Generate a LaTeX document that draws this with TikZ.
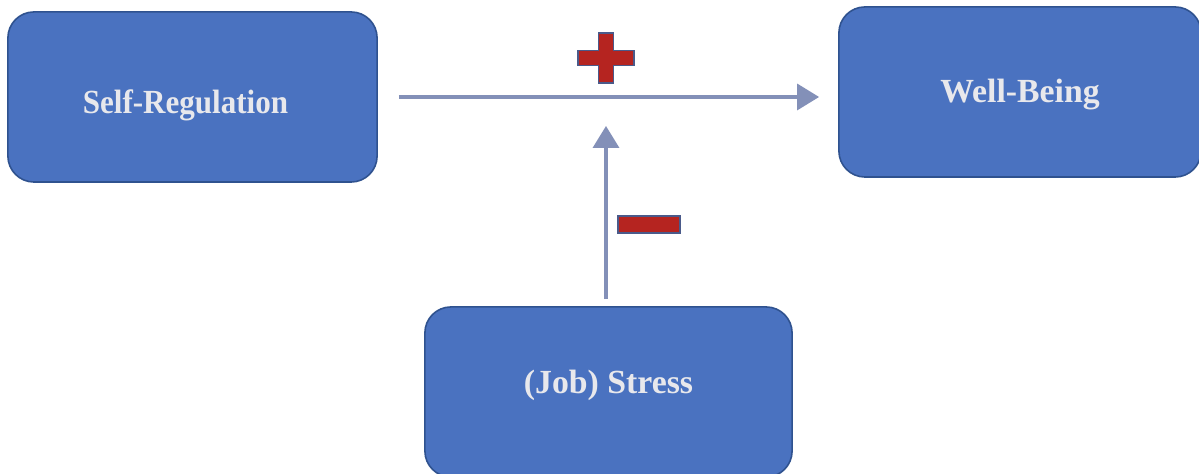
\documentclass[tikz,border=0pt]{standalone}
\usepackage{fontspec}
\setmainfont{Liberation Serif}
\usetikzlibrary{arrows.meta,calc}
\definecolor{boxblue}{HTML}{4A72C0}
\definecolor{boxedge}{HTML}{2F528F}
\definecolor{boxtext}{HTML}{E8E8EC}
\definecolor{linkgray}{HTML}{8390B8}
\definecolor{signred}{HTML}{B52420}
\definecolor{signedge}{HTML}{4A5A8A}

\begin{document}
\begin{tikzpicture}[x=0.01cm, y=0.01cm,
    box/.style={draw=boxedge, line width=0.45pt, fill=boxblue, rounded corners=0.26cm,
        minimum width=3.69cm, minimum height=1.70cm, text=boxtext,
        font=\fontsize{9.6}{11}\selectfont\bfseries},
    link/.style={draw=linkgray, line width=1pt, -{Triangle[length=0.22cm, width=0.26cm]}}]
            \useasboundingbox (0,0) rectangle (1199,474);
            \node[box] (SR) at (192.5,377)
                {\raisebox{-0.08cm}[\height][\depth]{\scalebox{0.92}[1]{Self-Regulation}}\kern0.14cm};
            \node[box, minimum width=3.62cm] (WB) at (1020,382)
                {\raisebox{-0.03cm}[\height][\depth]{Well-Being}};
            \node[box, minimum width=3.67cm] (JS) at (608.5,82)
                {\raisebox{0.07cm}[\height][\depth]{(Job) Stress}};
            \coordinate (M) at (606,377);
            \draw[link] ($(SR.east)+(21,0)$) -- ($(WB.west |- M)+(-19,0)$);
            \draw[link] ($(JS.north -| M)+(0,7)$) -- ($(M)+(0,-29)$);
            % signs
            \path[draw=signedge, fill=signred, line width=0.4pt]
                (598.5,441) -- (613.5,441) -- (613.5,423.5) -- (634,423.5) -- (634,408.5)
                -- (613.5,408.5) -- (613.5,391) -- (598.5,391) -- (598.5,408.5)
                -- (578,408.5) -- (578,423.5) -- (598.5,423.5) -- cycle;
            \node[draw=signedge, fill=signred, line width=0.6pt, inner sep=0pt,
                minimum width=0.62cm, minimum height=0.17cm] (minus) at (649,249.5) {};
        \end{tikzpicture}
\end{document}
